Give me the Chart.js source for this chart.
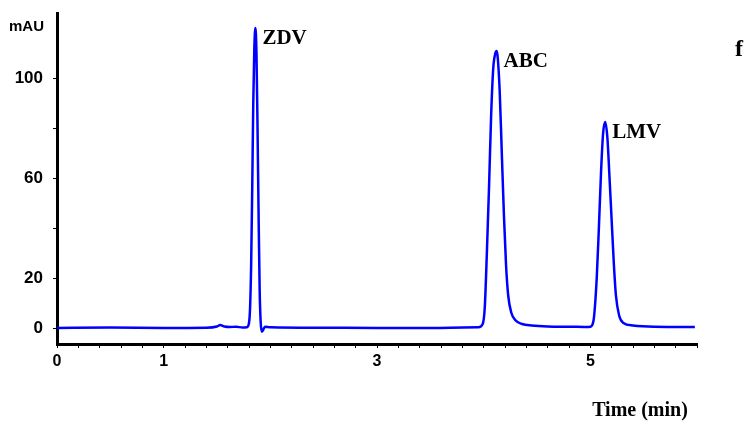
<!DOCTYPE html>
<html>
<head>
<meta charset="utf-8">
<script src="https://cdn.jsdelivr.net/npm/chart.js@4/dist/chart.umd.min.js"></script>
<style>
  html, body { margin: 0; padding: 0; background: #fff; }
  #wrap { width: 746px; height: 424px; }
</style>
</head>
<body>
<div id="wrap"><canvas id="chromChart" width="746" height="424"></canvas></div>
<script>
// retention time (min) and absorbance (mAU)
const times = [0, 0.5, 1.0, 1.4, 1.5, 1.53, 1.57, 1.62, 1.68, 1.74, 1.78,
  1.80, 1.81, 1.82, 1.83, 1.84, 1.85, 1.86, 1.87, 1.88, 1.89, 1.90, 1.91, 1.92, 1.93, 1.95,
  2.0, 2.5, 3.0, 3.5, 3.95,
  3.99, 4.01, 4.03, 4.05, 4.07, 4.09, 4.11, 4.12, 4.13, 4.15, 4.17, 4.19, 4.21, 4.23, 4.26,
  4.30, 4.36, 4.45, 4.6, 4.8, 4.97,
  5.0, 5.03, 5.06, 5.08, 5.10, 5.12, 5.14, 5.16, 5.18, 5.20, 5.22, 5.24, 5.27, 5.31, 5.40,
  5.6, 5.98];
const absorbance = [0, 0.2, 0, 0.1, 0.6, 1.2, 0.6, 0.4, 0.5, 0.2, 0.3,
  2, 8, 25, 55, 90, 112, 120, 110, 80, 45, 15, 2, -1.5, -1, 0.5,
  0.3, 0.1, 0, 0, 0.3,
  1.5, 8, 30, 56, 85, 104, 110, 110.8, 109, 95, 70, 45, 25, 13, 6,
  3, 1.6, 1.0, 0.6, 0.5, 0.4,
  0.5, 3, 20, 40, 62, 78, 82.4, 76, 60, 43, 26, 13, 5, 2, 1,
  0.5, 0.4];

// peak names with their apex (time, mAU)
const peakNames = ["ZDV", "ABC", "LMV"];
const peakTimes = [1.86, 4.12, 5.14];
const peakHeights = [120, 110.8, 82.4];

// axis ticks
const xTickLabels = [0, 1, 3, 5];
const yTicks = [0, 20, 40, 60, 80, 100];
const yTickLabels = [0, 20, 60, 100];

const points = times.map((t, i) => ({ x: t, y: absorbance[i] }));

// minor ticks every 0.2 min
const xTicks = [];
for (let i = 0; i <= 30; i++) xTicks.push(i / 5);

const textPlugin = {
  id: "chromText",
  afterDraw(chart) {
    const ctx = chart.ctx;
    const xs = chart.scales.x;
    const ys = chart.scales.y;
    ctx.save();
    ctx.fillStyle = "#000";
    ctx.textBaseline = "middle";

    // peak labels next to apex
    ctx.font = "bold 21px 'Liberation Serif', 'Times New Roman', serif";
    ctx.textAlign = "left";
    peakNames.forEach((name, i) => {
      const px = xs.getPixelForValue(peakTimes[i]);
      const py = ys.getPixelForValue(peakHeights[i]);
      ctx.fillText(name, px + 7, py + 11);
    });

    // panel letter
    ctx.font = "bold 24px 'Liberation Serif', 'Times New Roman', serif";
    ctx.textAlign = "center";
    ctx.fillText("f", 739, 50);

    // x axis title
    ctx.font = "bold 20px 'Liberation Serif', 'Times New Roman', serif";
    ctx.fillText("Time (min)", 640, 411);

    // y axis unit
    ctx.font = "bold 15px 'Liberation Sans', Arial, sans-serif";
    ctx.textAlign = "left";
    ctx.fillText("mAU", 9, 27);
    ctx.restore();
  }
};

const chromChart = new Chart(document.getElementById("chromChart"), {
  type: "line",
  data: {
    datasets: [
      {
        label: "Absorbance",
        data: points,
        borderColor: "rgb(0, 0, 255)",
        borderWidth: 2.5,
        pointRadius: 0,
        fill: false,
        cubicInterpolationMode: "monotone"
      }
    ]
  },
  options: {
    responsive: false,
    animation: false,
    layout: { padding: { left: 0, top: 13, right: 49, bottom: 0 } },
    plugins: {
      legend: { display: false },
      tooltip: { enabled: false }
    },
    scales: {
      x: {
        type: "linear",
        min: 0,
        max: 6,
        afterBuildTicks: scale => {
          scale.ticks = xTicks.map(v => ({ value: v }));
        },
        afterFit: scale => {
          scale.height = 80;
          scale.paddingLeft = 0;
          scale.paddingRight = 0;
        },
        border: { display: true, color: "#000", width: 3 },
        grid: {
          drawOnChartArea: false,
          drawTicks: true,
          tickLength: 4,
          tickColor: "#000",
          tickWidth: 1
        },
        ticks: {
          autoSkip: false,
          maxRotation: 0,
          padding: 4,
          color: "#000",
          font: { family: "'Liberation Sans', Arial, sans-serif", size: 16, weight: "bold" },
          callback: value => {
            const v = Math.round(value * 100) / 100;
            return xTickLabels.includes(v) ? String(v) : "";
          }
        }
      },
      y: {
        min: -6.4,
        max: 126,
        afterBuildTicks: scale => {
          scale.ticks = yTicks.map(v => ({ value: v }));
        },
        afterFit: scale => {
          scale.width = 57;
          scale.paddingTop = 0;
          scale.paddingBottom = 0;
        },
        border: { display: true, color: "#000", width: 3 },
        grid: {
          drawOnChartArea: false,
          drawTicks: true,
          tickLength: 4,
          tickColor: "#000",
          tickWidth: 1
        },
        ticks: {
          autoSkip: false,
          padding: 10,
          color: "#000",
          font: { family: "'Liberation Sans', Arial, sans-serif", size: 17, weight: "bold" },
          callback: value => (yTickLabels.includes(value) ? String(value) : "")
        }
      }
    }
  },
  plugins: [textPlugin]
});
</script>
</body>
</html>
